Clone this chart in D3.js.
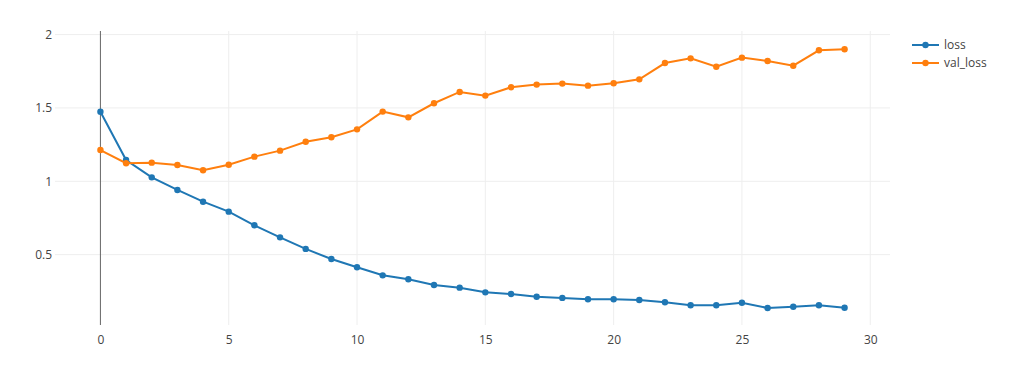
<!DOCTYPE html>
<html><head><meta charset="utf-8">
<script src="https://cdn.jsdelivr.net/npm/d3@7"></script>
<style>body{margin:0;background:#fff}svg{display:block}text{font-family:"Open Sans",verdana,arial,sans-serif}</style>
</head><body><svg id="c" width="1024" height="379"></svg>
<script>
const epochs = d3.range(30);
const lossValues = [1.474,1.145,1.027,0.941,0.861,0.793,0.700,0.618,0.539,0.470,0.414,0.359,0.332,0.293,0.275,0.243,0.232,0.213,0.205,0.196,0.196,0.191,0.175,0.155,0.155,0.172,0.136,0.145,0.155,0.138];
const valLossValues = [1.213,1.123,1.127,1.111,1.075,1.113,1.168,1.209,1.270,1.300,1.354,1.475,1.436,1.532,1.609,1.584,1.641,1.659,1.666,1.652,1.668,1.695,1.806,1.838,1.781,1.843,1.820,1.788,1.893,1.900];
const seriesNames = ["loss","val_loss"];
const seriesColors = ["#1f77b4","#ff7f0e"];
const xTicks = [0,5,10,15,20,25,30];
const yTicks = [0.5,1,1.5,2];

const svg = d3.select("#c");
const L=55,R=890,T=31,B=325;
const x = d3.scaleLinear().domain([-1.77,30.77]).range([L,R]);
const y = d3.scaleLinear().domain([0.0204,2.0245]).range([B,T]);

// grid
svg.append("g").selectAll("line").data(xTicks.filter(d=>d!==0)).join("line")
  .attr("x1",d=>x(d)).attr("x2",d=>x(d)).attr("y1",T).attr("y2",B)
  .attr("stroke","#eee").attr("stroke-width",1);
svg.append("g").selectAll("line").data(yTicks).join("line")
  .attr("x1",L).attr("x2",R).attr("y1",d=>y(d)).attr("y2",d=>y(d))
  .attr("stroke","#eee").attr("stroke-width",1);
// zero line
svg.append("line").attr("x1",x(0)).attr("x2",x(0)).attr("y1",T).attr("y2",B)
  .attr("stroke","#666").attr("stroke-width",1);

// axes labels via d3 axes
const xa = svg.append("g").attr("transform",`translate(0,${B})`)
  .call(d3.axisBottom(x).tickValues(xTicks).tickSize(0).tickPadding(10).tickFormat(d3.format("d")));
const ya = svg.append("g").attr("transform",`translate(${L},0)`)
  .call(d3.axisLeft(y).tickValues(yTicks).tickSize(0).tickPadding(3).tickFormat(d=>String(d)));
[xa,ya].forEach(a=>{a.select(".domain").remove();
  a.selectAll("text").attr("fill","#444").attr("font-size",12).attr("font-family",'"Open Sans",verdana,arial,sans-serif');});

const data = [lossValues, valLossValues];
const line = d3.line().x((d,i)=>x(epochs[i])).y(d=>y(d));
data.forEach((vals,k)=>{
  const g = svg.append("g");
  g.append("path").attr("d",line(vals)).attr("fill","none")
    .attr("stroke",seriesColors[k]).attr("stroke-width",2);
  g.selectAll("circle").data(vals).join("circle")
    .attr("cx",(d,i)=>x(epochs[i])).attr("cy",d=>y(d)).attr("r",3.2)
    .attr("fill",seriesColors[k]);
});

// legend
const lg = svg.append("g");
seriesNames.forEach((n,k)=>{
  const yy = 45 + k*18;
  lg.append("line").attr("x1",912).attr("x2",939).attr("y1",yy).attr("y2",yy)
    .attr("stroke",seriesColors[k]).attr("stroke-width",2);
  lg.append("circle").attr("cx",925.5).attr("cy",yy).attr("r",3.2).attr("fill",seriesColors[k]);
  lg.append("text").attr("x",944).attr("y",yy).attr("dy","0.35em")
    .attr("font-size",12).attr("fill","#444").text(n);
});
</script></body></html>
